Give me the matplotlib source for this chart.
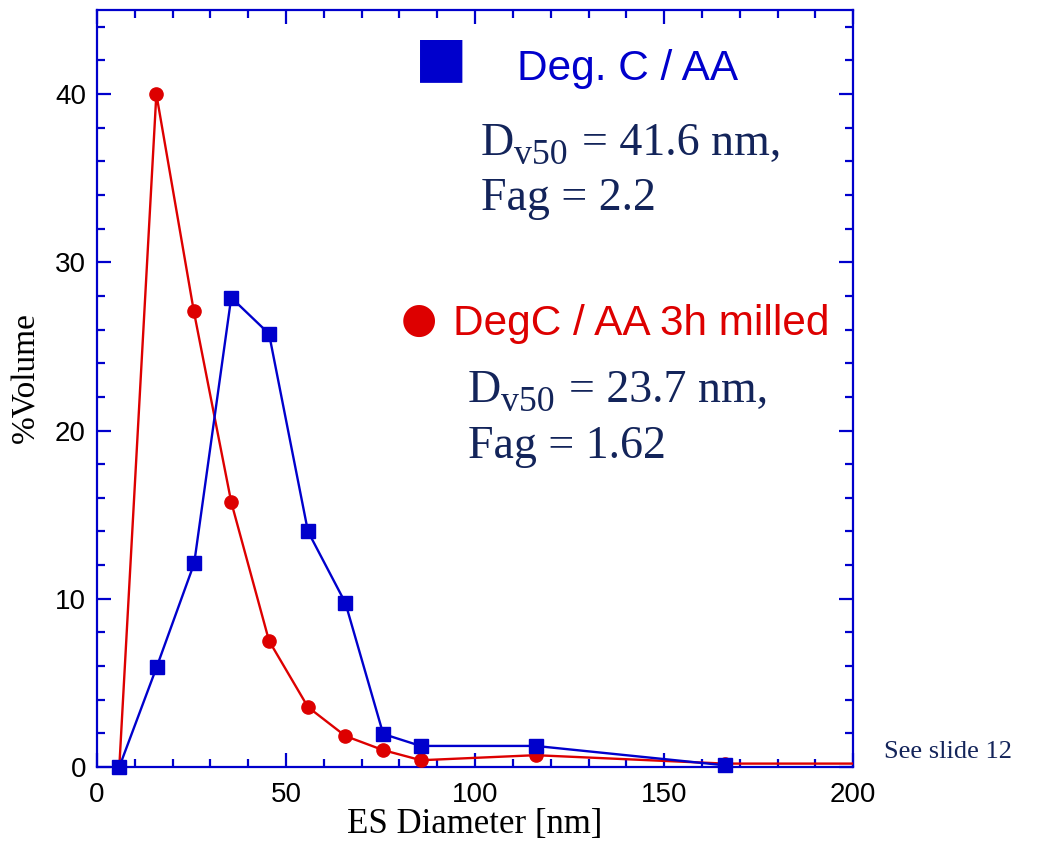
import matplotlib
matplotlib.use("Agg")
import matplotlib.pyplot as plt
from matplotlib.ticker import MultipleLocator

# Size distributions (ES diameter in nm vs % volume)
diam_aa = [5.9, 15.8, 25.7, 35.5, 45.5, 55.8, 65.7, 75.7, 85.6, 116.0, 166.0]
vol_aa = [0.0, 5.95, 12.1, 27.9, 25.75, 14.0, 9.75, 1.96, 1.25, 1.25, 0.1]

diam_milled = [5.9, 15.7, 25.6, 35.5, 45.5, 55.8, 65.7, 75.7, 85.7, 116.0, 166.0, 215.0]
vol_milled = [0.0, 40.0, 27.1, 15.75, 7.5, 3.56, 1.84, 1.0, 0.4, 0.7, 0.2, 0.2]

label_aa = "Deg. C / AA"
label_milled = "DegC / AA 3h milled"
stats_aa = ("41.6 nm,", "2.2")
stats_milled = ("23.7 nm,", "1.62")

BLUE = "#0000CC"
RED = "#DD0000"
NAVY = "#13245A"
SANS = "Liberation Sans"
SERIF = "Liberation Serif"

fig = plt.figure(figsize=(10.43, 8.43), dpi=100)
ax = fig.add_axes([0.093, 0.0902, 0.725, 0.898])

# lines clipped to the frame, markers drawn in full
ax.plot(diam_milled, vol_milled, color=RED, lw=1.7, zorder=3)
ax.plot(diam_milled[:-1], vol_milled[:-1], ls="none", marker="o", ms=9.5,
        color=RED, clip_on=False, zorder=4)
ax.plot(diam_aa, vol_aa, color=BLUE, lw=1.7, zorder=5)
ax.plot(diam_aa, vol_aa, ls="none", marker="s", ms=10, color=BLUE,
        clip_on=False, zorder=6)

ax.set_xlim(0, 200)
ax.set_ylim(0, 45)
ax.xaxis.set_major_locator(MultipleLocator(50))
ax.xaxis.set_minor_locator(MultipleLocator(10))
ax.yaxis.set_major_locator(MultipleLocator(10))
ax.yaxis.set_minor_locator(MultipleLocator(2))

for s in ax.spines.values():
    s.set_color(BLUE)
    s.set_linewidth(1.6)
ax.tick_params(which="both", direction="in", top=True, right=True,
               color=BLUE, width=1.6, labelsize=20)
ax.tick_params(axis="y", pad=8)
ax.tick_params(axis="x", pad=11)
ax.tick_params(which="major", length=10)
ax.tick_params(which="minor", length=6)
for lab in ax.get_xticklabels() + ax.get_yticklabels():
    lab.set_fontfamily(SANS)

ax.set_xlabel("ES Diameter [nm]", fontfamily=SERIF, fontsize=25, labelpad=0)
ax.set_ylabel("%Volume", fontfamily=SERIF, fontsize=24)
ax.yaxis.set_label_coords(-0.074, 0.515)

renderer = fig.canvas.get_renderer()


def stats_block(x, y1, y2, dv, fag):
    """Dv50 line with its subscript, then the Fag line below it."""
    fs = 33
    t = fig.text(x / 1043, 1 - y1 / 843, "D", color=NAVY, fontsize=fs,
                 family=SERIF, ha="left", va="baseline")
    bb = t.get_window_extent(renderer)
    s = fig.text(bb.x1 / 1043, (843 - y1 - 9) / 843, "v50", color=NAVY,
                 fontsize=fs * 0.78, family=SERIF, ha="left", va="baseline")
    bb2 = s.get_window_extent(renderer)
    fig.text((bb2.x1 + 14) / 1043, 1 - y1 / 843, "= " + dv, color=NAVY,
             fontsize=fs, family=SERIF, ha="left", va="baseline")
    fig.text(x / 1043, 1 - y2 / 843, "Fag = " + fag, color=NAVY,
             fontsize=fs, family=SERIF, ha="left", va="baseline")


# annotations
fig.text(441 / 1043, 1 - 60 / 843, "\u25A0", color=BLUE, fontsize=40,
         ha="center", va="center", family="DejaVu Sans")
fig.text(517 / 1043, 1 - 80 / 843, label_aa, color=BLUE, fontsize=30.5,
         family=SANS, ha="left", va="baseline")
stats_block(481, 155, 210, *stats_aa)

fig.text(419 / 1043, 1 - 320 / 843, "\u25CF", color=RED, fontsize=30,
         ha="center", va="center", family="DejaVu Sans")
fig.text(453 / 1043, 1 - 335 / 843, label_milled, color=RED, fontsize=30.5,
         family=SANS, ha="left", va="baseline")
stats_block(468, 402, 458, *stats_milled)

fig.text(884 / 1043, 1 - 758 / 843, "See slide 12", color=NAVY, fontsize=19,
         family=SERIF, ha="left", va="baseline")

fig.savefig("out.png", dpi=100)
